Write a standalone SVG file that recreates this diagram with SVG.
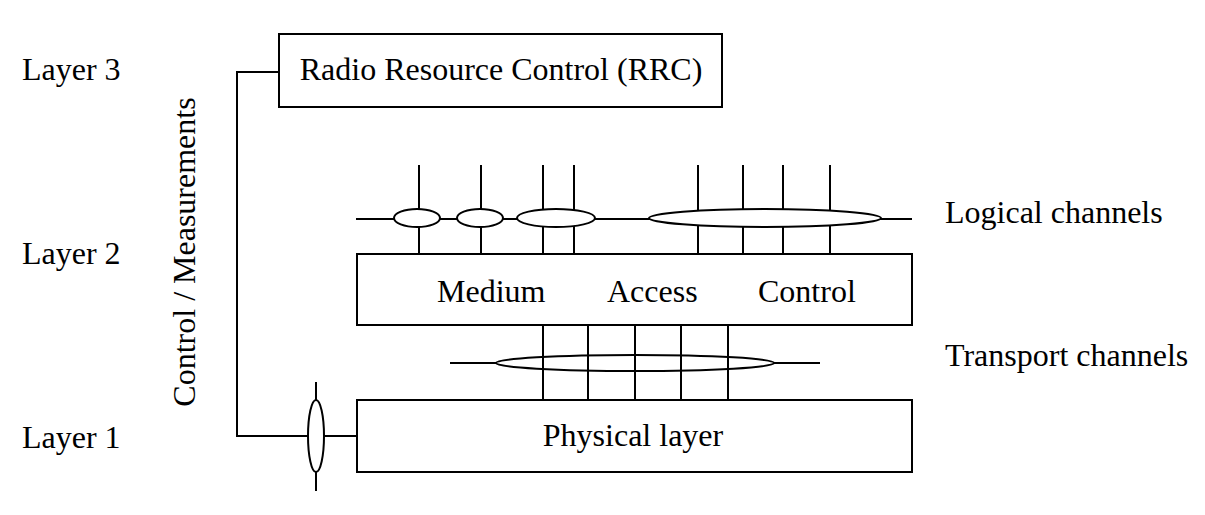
<svg xmlns="http://www.w3.org/2000/svg" width="1205" height="515" viewBox="0 0 1205 515">
<style>
.b{fill:#fff;stroke:#000;stroke-width:2}
.l{fill:none;stroke:#000;stroke-width:2}
.t{font-family:"Liberation Serif","Times New Roman",serif;font-size:32px;fill:#000}
</style>
<rect width="1205" height="515" fill="#fff"/>
<g id="labels">
<text class="t" x="22" y="80">Layer 3</text>
<text class="t" x="22" y="264">Layer 2</text>
<text class="t" x="22" y="448">Layer 1</text>
<text class="t" transform="translate(195,252) rotate(-90)" text-anchor="middle">Control / Measurements</text>
<text class="t" x="945" y="223">Logical channels</text>
<text class="t" x="945" y="366">Transport channels</text>
</g>
<g id="connectors">
<polyline class="l" points="279,72 237,72 237,436 357,436"/>
<line class="l" x1="316" y1="382" x2="316" y2="491"/>
<ellipse class="b" cx="316" cy="436" rx="8" ry="36"/>
<line class="l" x1="356" y1="219" x2="912" y2="219"/>
<path class="l" d="M419,165V257M481,165V257M543,165V257M574,165V257M698,165V254M743,165V254M783,165V254M830,165V254"/>
<ellipse class="b" cx="417" cy="218" rx="23" ry="9"/>
<ellipse class="b" cx="480" cy="218" rx="23" ry="9"/>
<ellipse class="b" cx="556" cy="218" rx="39" ry="9"/>
<ellipse class="b" cx="765" cy="218" rx="116" ry="9"/>
<line class="l" x1="450" y1="363" x2="820" y2="363"/>
<ellipse class="b" cx="635" cy="363" rx="139" ry="8"/>
<path class="l" d="M543,325V400M588,325V400M635,325V400M681,325V400M728,325V400"/>
</g>
<g id="rrc">
<rect class="b" x="279" y="34" width="443" height="73"/>
<text class="t" x="501" y="80" text-anchor="middle">Radio Resource Control (RRC)</text>
</g>
<g id="mac">
<rect class="b" x="357" y="254" width="555" height="71"/>
<text class="t" x="437" y="302">Medium</text>
<text class="t" x="607" y="302">Access</text>
<text class="t" x="758" y="302">Control</text>
</g>
<g id="phy">
<rect class="b" x="357" y="400" width="555" height="72"/>
<text class="t" x="633" y="446" text-anchor="middle">Physical layer</text>
</g>
</svg>
